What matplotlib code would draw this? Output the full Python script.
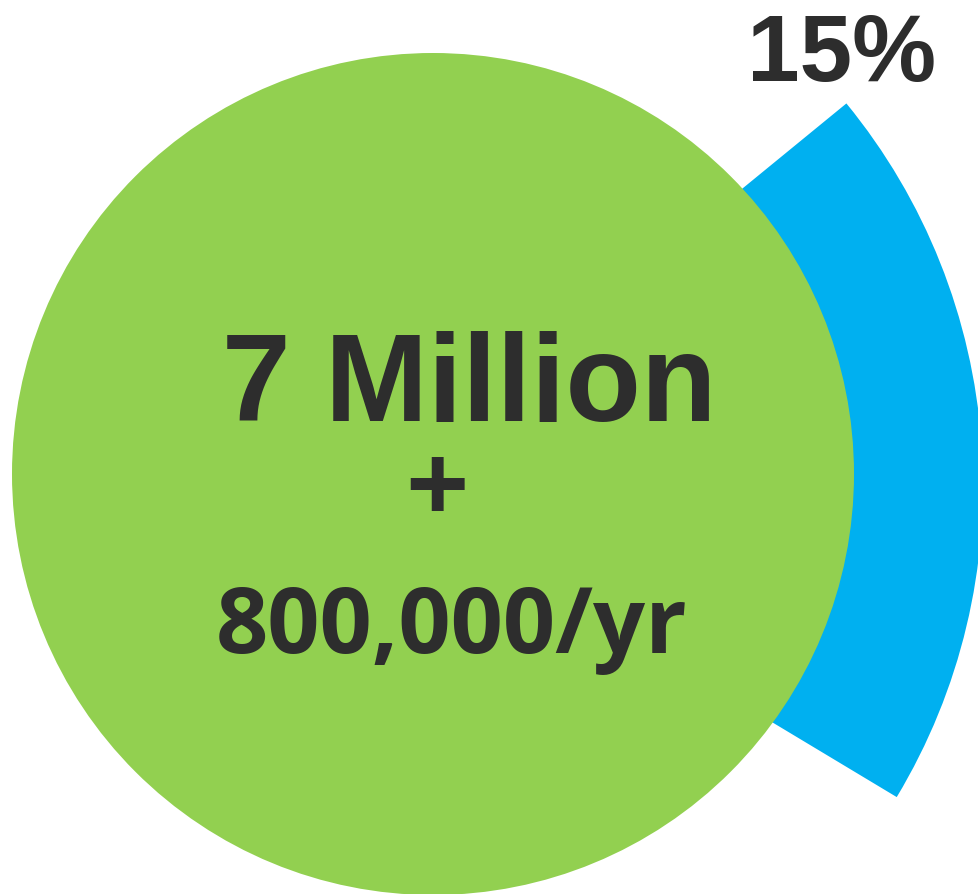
import matplotlib
matplotlib.use("Agg")
import matplotlib.pyplot as plt
from matplotlib.patches import Circle, Wedge

# --------------------------------------------------------------------#
# Data
# --------------------------------------------------------------------#
center_lines = ["7 Million", "+", "800,000/yr"]
share_pct = 15
wedge_angles = (-31.0, 39.3)  # drawn span of the blue slice, degrees

GREEN = "#92D050"
BLUE = "#00B0F0"
TEXT = "#2D2D2D"

W, H = 979, 895

fig = plt.figure(figsize=(W / 100, H / 100), dpi=100)
ax = fig.add_axes([0, 0, 1, 1])
ax.set_xlim(0, W)
ax.set_ylim(0, H)
ax.set_aspect("equal")
ax.axis("off")

# blue slice sits behind the green disc
ax.add_patch(Wedge((379, 408), 604, wedge_angles[0], wedge_angles[1],
                   facecolor=BLUE, edgecolor="none", zorder=1))
ax.add_patch(Circle((433, 420), 421, facecolor=GREEN, edgecolor="none", zorder=2))

ax.text(469, 474, center_lines[0], ha="center", va="baseline", fontsize=89,
        fontweight="bold", family="Liberation Sans", color=TEXT, zorder=3)
ax.text(437, 401, center_lines[1], ha="center", va="center", fontsize=80,
        fontweight="bold", family="Open Sans", color=TEXT, zorder=3)
ax.text(452, 242, center_lines[2], ha="center", va="baseline", fontsize=66,
        fontweight="bold", family="Open Sans", color=TEXT, zorder=3)
ax.text(842, 814, f"{share_pct}%", ha="center", va="baseline", fontsize=68,
        fontweight="bold", family="Liberation Sans", color=TEXT, zorder=3)

fig.savefig("out.png", dpi=100)
